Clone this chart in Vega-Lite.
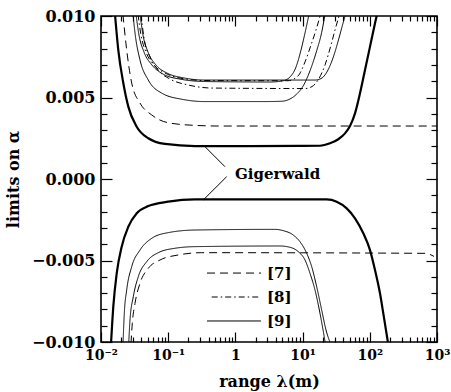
{
  "$schema": "https://vega.github.io/schema/vega-lite/v6.json",
  "width": 336,
  "height": 326,
  "autosize": "none",
  "padding": {"left": 101, "top": 16, "right": 14, "bottom": 50},
  "background": "white",
  "datasets": {
    "curves": [
      {"c": "gu", "src": "Gigerwald", "x": 0.01615, "y": 0.0101},
      {"c": "gu", "src": "Gigerwald", "x": 0.01809, "y": 0.00791},
      {"c": "gu", "src": "Gigerwald", "x": 0.02147, "y": 0.00589},
      {"c": "gu", "src": "Gigerwald", "x": 0.02549, "y": 0.00444},
      {"c": "gu", "src": "Gigerwald", "x": 0.03399, "y": 0.00321},
      {"c": "gu", "src": "Gigerwald", "x": 0.05057, "y": 0.0025},
      {"c": "gu", "src": "Gigerwald", "x": 0.08962, "y": 0.00215},
      {"c": "gu", "src": "Gigerwald", "x": 0.2505, "y": 0.00202},
      {"c": "gu", "src": "Gigerwald", "x": 1.649, "y": 0.00202},
      {"c": "gu", "src": "Gigerwald", "x": 9.148, "y": 0.00203},
      {"c": "gu", "src": "Gigerwald", "x": 18.15, "y": 0.00204},
      {"c": "gu", "src": "Gigerwald", "x": 25.57, "y": 0.00219},
      {"c": "gu", "src": "Gigerwald", "x": 33.98, "y": 0.00244},
      {"c": "gu", "src": "Gigerwald", "x": 42.76, "y": 0.0028},
      {"c": "gu", "src": "Gigerwald", "x": 50.74, "y": 0.00325},
      {"c": "gu", "src": "Gigerwald", "x": 60.22, "y": 0.00403},
      {"c": "gu", "src": "Gigerwald", "x": 71.48, "y": 0.00526},
      {"c": "gu", "src": "Gigerwald", "x": 84.85, "y": 0.00669},
      {"c": "gu", "src": "Gigerwald", "x": 100.7, "y": 0.00812},
      {"c": "gu", "src": "Gigerwald", "x": 119.5, "y": 0.00955},
      {"c": "gu", "src": "Gigerwald", "x": 128, "y": 0.0101},

      {"c": "gl", "src": "Gigerwald", "x": 0.01409, "y": -0.0101},
      {"c": "gl", "src": "Gigerwald", "x": 0.01524, "y": -0.00783},
      {"c": "gl", "src": "Gigerwald", "x": 0.01713, "y": -0.00579},
      {"c": "gl", "src": "Gigerwald", "x": 0.02032, "y": -0.00415},
      {"c": "gl", "src": "Gigerwald", "x": 0.02549, "y": -0.00293},
      {"c": "gl", "src": "Gigerwald", "x": 0.03399, "y": -0.0021},
      {"c": "gl", "src": "Gigerwald", "x": 0.05057, "y": -0.00166},
      {"c": "gl", "src": "Gigerwald", "x": 0.1003, "y": -0.00139},
      {"c": "gl", "src": "Gigerwald", "x": 0.2505, "y": -0.00125},
      {"c": "gl", "src": "Gigerwald", "x": 22.84, "y": -0.00125},
      {"c": "gl", "src": "Gigerwald", "x": 32.17, "y": -0.00139},
      {"c": "gl", "src": "Gigerwald", "x": 45.33, "y": -0.0018},
      {"c": "gl", "src": "Gigerwald", "x": 60.22, "y": -0.00241},
      {"c": "gl", "src": "Gigerwald", "x": 80.05, "y": -0.00333},
      {"c": "gl", "src": "Gigerwald", "x": 100.7, "y": -0.00436},
      {"c": "gl", "src": "Gigerwald", "x": 119.5, "y": -0.00558},
      {"c": "gl", "src": "Gigerwald", "x": 141.8, "y": -0.00701},
      {"c": "gl", "src": "Gigerwald", "x": 158.8, "y": -0.00824},
      {"c": "gl", "src": "Gigerwald", "x": 187.5, "y": -0.0101},

      {"c": "d7u", "src": "[7]", "x": 0.0212, "y": 0.0101},
      {"c": "d7u", "src": "[7]", "x": 0.02412, "y": 0.00791},
      {"c": "d7u", "src": "[7]", "x": 0.02863, "y": 0.00589},
      {"c": "d7u", "src": "[7]", "x": 0.03805, "y": 0.00466},
      {"c": "d7u", "src": "[7]", "x": 0.05681, "y": 0.00393},
      {"c": "d7u", "src": "[7]", "x": 0.1003, "y": 0.00345},
      {"c": "d7u", "src": "[7]", "x": 0.2505, "y": 0.00329},
      {"c": "d7u", "src": "[7]", "x": 0.59, "y": 0.00325},
      {"c": "d7u", "src": "[7]", "x": 1000, "y": 0.00325},

      {"c": "d7l", "src": "[7]", "x": 0.02795, "y": -0.0101},
      {"c": "d7l", "src": "[7]", "x": 0.02923, "y": -0.00885},
      {"c": "d7l", "src": "[7]", "x": 0.03206, "y": -0.00763},
      {"c": "d7l", "src": "[7]", "x": 0.03805, "y": -0.0064},
      {"c": "d7l", "src": "[7]", "x": 0.05057, "y": -0.00548},
      {"c": "d7l", "src": "[7]", "x": 0.07551, "y": -0.00497},
      {"c": "d7l", "src": "[7]", "x": 0.1413, "y": -0.00466},
      {"c": "d7l", "src": "[7]", "x": 0.315, "y": -0.00452},
      {"c": "d7l", "src": "[7]", "x": 662.9, "y": -0.00456},
      {"c": "d7l", "src": "[7]", "x": 786.6, "y": -0.00463},
      {"c": "d7l", "src": "[7]", "x": 902.5, "y": -0.00475},

      {"c": "u1", "src": "[9]", "x": 0.02994, "y": 0.0101},
      {"c": "u1", "src": "[9]", "x": 0.03206, "y": 0.00896},
      {"c": "u1", "src": "[9]", "x": 0.03805, "y": 0.0073},
      {"c": "u1", "src": "[9]", "x": 0.05057, "y": 0.00607},
      {"c": "u1", "src": "[9]", "x": 0.08087, "y": 0.00526},
      {"c": "u1", "src": "[9]", "x": 0.1605, "y": 0.00489},
      {"c": "u1", "src": "[9]", "x": 0.3528, "y": 0.00475},
      {"c": "u1", "src": "[9]", "x": 2.757, "y": 0.00475},
      {"c": "u1", "src": "[9]", "x": 4.887, "y": 0.00477},
      {"c": "u1", "src": "[9]", "x": 6.494, "y": 0.00491},
      {"c": "u1", "src": "[9]", "x": 8.17, "y": 0.00521},
      {"c": "u1", "src": "[9]", "x": 10.24, "y": 0.00572},
      {"c": "u1", "src": "[9]", "x": 12.89, "y": 0.00664},
      {"c": "u1", "src": "[9]", "x": 16.21, "y": 0.00787},
      {"c": "u1", "src": "[9]", "x": 19.24, "y": 0.009},
      {"c": "u1", "src": "[9]", "x": 21.54, "y": 0.0101},

      {"c": "u2", "src": "[9]", "x": 0.03318, "y": 0.0101},
      {"c": "u2", "src": "[9]", "x": 0.03677, "y": 0.00883},
      {"c": "u2", "src": "[9]", "x": 0.04364, "y": 0.00779},
      {"c": "u2", "src": "[9]", "x": 0.0574, "y": 0.00699},
      {"c": "u2", "src": "[9]", "x": 0.08369, "y": 0.00644},
      {"c": "u2", "src": "[9]", "x": 0.1498, "y": 0.00613},
      {"c": "u2", "src": "[9]", "x": 0.3528, "y": 0.00598},
      {"c": "u2", "src": "[9]", "x": 3.273, "y": 0.00595},
      {"c": "u2", "src": "[9]", "x": 4.938, "y": 0.00601},
      {"c": "u2", "src": "[9]", "x": 6.494, "y": 0.00626},
      {"c": "u2", "src": "[9]", "x": 7.977, "y": 0.00687},
      {"c": "u2", "src": "[9]", "x": 9.467, "y": 0.00791},
      {"c": "u2", "src": "[9]", "x": 10.86, "y": 0.00896},
      {"c": "u2", "src": "[9]", "x": 12.45, "y": 0.0101},

      {"c": "u3", "src": "[9]", "x": 0.03805, "y": 0.0101},
      {"c": "u3", "src": "[9]", "x": 0.04217, "y": 0.00883},
      {"c": "u3", "src": "[9]", "x": 0.05005, "y": 0.00779},
      {"c": "u3", "src": "[9]", "x": 0.06585, "y": 0.00699},
      {"c": "u3", "src": "[9]", "x": 0.09596, "y": 0.0065},
      {"c": "u3", "src": "[9]", "x": 0.1718, "y": 0.0062},
      {"c": "u3", "src": "[9]", "x": 0.3528, "y": 0.00607},
      {"c": "u3", "src": "[9]", "x": 15.29, "y": 0.00607},
      {"c": "u3", "src": "[9]", "x": 19.44, "y": 0.0062},
      {"c": "u3", "src": "[9]", "x": 23.88, "y": 0.00669},
      {"c": "u3", "src": "[9]", "x": 29.34, "y": 0.00761},
      {"c": "u3", "src": "[9]", "x": 34.81, "y": 0.00865},
      {"c": "u3", "src": "[9]", "x": 38.58, "y": 0.00933},
      {"c": "u3", "src": "[9]", "x": 43.49, "y": 0.0101},

      {"c": "d8a", "src": "[8]", "x": 0.03553, "y": 0.0101},
      {"c": "d8a", "src": "[8]", "x": 0.03937, "y": 0.00883},
      {"c": "d8a", "src": "[8]", "x": 0.04673, "y": 0.00779},
      {"c": "d8a", "src": "[8]", "x": 0.06146, "y": 0.00699},
      {"c": "d8a", "src": "[8]", "x": 0.08962, "y": 0.0065},
      {"c": "d8a", "src": "[8]", "x": 0.1605, "y": 0.00617},
      {"c": "d8a", "src": "[8]", "x": 0.3528, "y": 0.00604},
      {"c": "d8a", "src": "[8]", "x": 6.063, "y": 0.00603},
      {"c": "d8a", "src": "[8]", "x": 8.541, "y": 0.00632},
      {"c": "d8a", "src": "[8]", "x": 10.86, "y": 0.00718},
      {"c": "d8a", "src": "[8]", "x": 13.34, "y": 0.00822},
      {"c": "d8a", "src": "[8]", "x": 15.83, "y": 0.00914},
      {"c": "d8a", "src": "[8]", "x": 18.47, "y": 0.0101},

      {"c": "d8b", "src": "[8]", "x": 0.03937, "y": 0.0101},
      {"c": "d8b", "src": "[8]", "x": 0.04364, "y": 0.00865},
      {"c": "d8b", "src": "[8]", "x": 0.05359, "y": 0.00748},
      {"c": "d8b", "src": "[8]", "x": 0.07049, "y": 0.00669},
      {"c": "d8b", "src": "[8]", "x": 0.1063, "y": 0.00613},
      {"c": "d8b", "src": "[8]", "x": 0.197, "y": 0.00577},
      {"c": "d8b", "src": "[8]", "x": 0.4485, "y": 0.00558},
      {"c": "d8b", "src": "[8]", "x": 10.86, "y": 0.00555},
      {"c": "d8b", "src": "[8]", "x": 13.8, "y": 0.00567},
      {"c": "d8b", "src": "[8]", "x": 16.95, "y": 0.00607},
      {"c": "d8b", "src": "[8]", "x": 21.54, "y": 0.00699},
      {"c": "d8b", "src": "[8]", "x": 26.46, "y": 0.00822},
      {"c": "d8b", "src": "[8]", "x": 30.36, "y": 0.00914},
      {"c": "d8b", "src": "[8]", "x": 35.41, "y": 0.0101},

      {"c": "l1", "src": "[9]", "x": 0.02126, "y": -0.0101},
      {"c": "l1", "src": "[9]", "x": 0.02222, "y": -0.00824},
      {"c": "l1", "src": "[9]", "x": 0.02412, "y": -0.00681},
      {"c": "l1", "src": "[9]", "x": 0.02863, "y": -0.00538},
      {"c": "l1", "src": "[9]", "x": 0.03805, "y": -0.00436},
      {"c": "l1", "src": "[9]", "x": 0.05681, "y": -0.00364},
      {"c": "l1", "src": "[9]", "x": 0.1003, "y": -0.00329},
      {"c": "l1", "src": "[9]", "x": 0.2505, "y": -0.00313},
      {"c": "l1", "src": "[9]", "x": 3.884, "y": -0.00309},
      {"c": "l1", "src": "[9]", "x": 5.162, "y": -0.00317},
      {"c": "l1", "src": "[9]", "x": 7.27, "y": -0.00344},
      {"c": "l1", "src": "[9]", "x": 9.148, "y": -0.00385},
      {"c": "l1", "src": "[9]", "x": 11.51, "y": -0.00456},
      {"c": "l1", "src": "[9]", "x": 13.66, "y": -0.00538},
      {"c": "l1", "src": "[9]", "x": 16.21, "y": -0.00661},
      {"c": "l1", "src": "[9]", "x": 19.24, "y": -0.00804},
      {"c": "l1", "src": "[9]", "x": 22.29, "y": -0.00926},
      {"c": "l1", "src": "[9]", "x": 26.06, "y": -0.0101},

      {"c": "l2", "src": "[9]", "x": 0.02584, "y": -0.0101},
      {"c": "l2", "src": "[9]", "x": 0.02701, "y": -0.00865},
      {"c": "l2", "src": "[9]", "x": 0.03025, "y": -0.00722},
      {"c": "l2", "src": "[9]", "x": 0.0359, "y": -0.00599},
      {"c": "l2", "src": "[9]", "x": 0.04787, "y": -0.00507},
      {"c": "l2", "src": "[9]", "x": 0.07123, "y": -0.00452},
      {"c": "l2", "src": "[9]", "x": 0.1262, "y": -0.00425},
      {"c": "l2", "src": "[9]", "x": 0.2505, "y": -0.00415},
      {"c": "l2", "src": "[9]", "x": 4.609, "y": -0.00411},
      {"c": "l2", "src": "[9]", "x": 6.494, "y": -0.00419},
      {"c": "l2", "src": "[9]", "x": 8.63, "y": -0.00446},
      {"c": "l2", "src": "[9]", "x": 10.86, "y": -0.00497},
      {"c": "l2", "src": "[9]", "x": 12.89, "y": -0.00579},
      {"c": "l2", "src": "[9]", "x": 15.29, "y": -0.00681},
      {"c": "l2", "src": "[9]", "x": 18.15, "y": -0.00824},
      {"c": "l2", "src": "[9]", "x": 21.84, "y": -0.0101},

      {"c": "lg7", "src": "[7]", "x": 0.378, "y": -0.00577},
      {"c": "lg7", "src": "[7]", "x": 2.4, "y": -0.00577},
      {"c": "lg8", "src": "[8]", "x": 0.444, "y": -0.00724},
      {"c": "lg8", "src": "[8]", "x": 2.19, "y": -0.00724},
      {"c": "lg9", "src": "[9]", "x": 0.378, "y": -0.00871},
      {"c": "lg9", "src": "[9]", "x": 2.4, "y": -0.00871}
    ],
    "pointers": [
      {"x": 0.332, "y": 0.00209, "x2": 0.70, "y2": 0.000755},
      {"x": 0.741, "y": 0.000141, "x2": 0.332, "y2": -0.00129}
    ],
    "labels": [
      {"x": 0.986, "y": 0.00028, "label": "Gigerwald"},
      {"x": 2.95, "y": -0.00577, "label": "[7]"},
      {"x": 2.95, "y": -0.00724, "label": "[8]"},
      {"x": 2.95, "y": -0.00871, "label": "[9]"}
    ]
  },
  "layer": [
    {
      "layer": [
        {
          "data": {"name": "curves"},
          "transform": [{"filter": "datum.src == 'Gigerwald'"}],
          "mark": {"type": "line", "clip": true, "interpolate": "monotone", "strokeWidth": 2.2, "color": "black"},
          "encoding": {
            "x": {"field": "x", "type": "quantitative", "scale": {"type": "log", "domain": [0.01, 1000], "nice": false}, "axis": null},
            "y": {"field": "y", "type": "quantitative", "scale": {"domain": [-0.01, 0.01], "nice": false, "zero": false}, "axis": null},
            "detail": {"field": "c", "type": "nominal"}
          }
        },
        {
          "data": {"name": "curves"},
          "transform": [{"filter": "datum.src != 'Gigerwald'"}],
          "mark": {"type": "line", "clip": true, "interpolate": "monotone", "strokeWidth": 1, "color": "black"},
          "encoding": {
            "x": {"field": "x", "type": "quantitative", "axis": null},
            "y": {"field": "y", "type": "quantitative", "axis": null},
            "detail": {"field": "c", "type": "nominal"},
            "strokeDash": {
              "field": "src", "type": "nominal",
              "scale": {"domain": ["[7]", "[8]", "[9]"], "range": [[8, 5], [6, 3, 1.5, 3], [1, 0]]},
              "legend": null
            }
          }
        },
        {
          "data": {"name": "pointers"},
          "mark": {"type": "rule", "color": "black", "strokeWidth": 1},
          "encoding": {
            "x": {"field": "x", "type": "quantitative", "axis": null},
            "y": {"field": "y", "type": "quantitative", "axis": null},
            "x2": {"field": "x2"},
            "y2": {"field": "y2"}
          }
        },
        {
          "data": {"name": "labels"},
          "mark": {"type": "text", "align": "left", "baseline": "middle", "font": "DejaVu Serif", "fontWeight": "bold", "fontSize": 15, "color": "black"},
          "encoding": {
            "x": {"field": "x", "type": "quantitative", "axis": null},
            "y": {"field": "y", "type": "quantitative", "axis": null},
            "text": {"field": "label", "type": "nominal"}
          }
        }
      ]
    },
    {
      "data": {"values": [{"x": 1, "y": 0}]},
      "mark": {"type": "point", "opacity": 0},
      "encoding": {
        "x": {
          "field": "x", "type": "quantitative",
          "scale": {"type": "log", "domain": [0.01, 1000], "nice": false},
          "axis": {
            "orient": "bottom",
            "values": [0.01,0.02,0.03,0.04,0.05,0.06,0.07,0.08,0.09,0.1,0.2,0.3,0.4,0.5,0.6,0.7,0.8,0.9,1,2,3,4,5,6,7,8,9,10,20,30,40,50,60,70,80,90,100,200,300,400,500,600,700,800,900,1000],
            "labelExpr": "datum.value == 0.01 ? '10⁻²' : datum.value == 0.1 ? '10⁻¹' : datum.value == 1 ? '1' : datum.value == 10 ? '10¹' : datum.value == 100 ? '10²' : datum.value == 1000 ? '10³' : ''",
            "tickSize": {"condition": {"test": "indexof([0.01,0.1,1,10,100,1000], datum.value) >= 0", "value": -10}, "value": -5},
            "labelPadding": 16,
            "labelFontSize": 14,
            "labelFlush": false,
            "labelOverlap": false,
            "labelBound": false,
            "title": "range λ(m)",
            "titleFontSize": 16,
            "titlePadding": 6
          }
        },
        "y": {
          "field": "y", "type": "quantitative",
          "scale": {"domain": [-0.01, 0.01], "nice": false, "zero": false},
          "axis": {
            "orient": "left",
            "values": [-0.01,-0.009,-0.008,-0.007,-0.006,-0.005,-0.004,-0.003,-0.002,-0.001,0,0.001,0.002,0.003,0.004,0.005,0.006,0.007,0.008,0.009,0.01],
            "labelExpr": "indexof([-0.01,-0.005,0,0.005,0.01], datum.value) >= 0 ? format(datum.value, '.3f') : ''",
            "tickSize": {"condition": {"test": "indexof([-0.01,-0.005,0,0.005,0.01], datum.value) >= 0", "value": -11}, "value": -6},
            "labelPadding": 17,
            "labelFontSize": 16,
            "labelOverlap": false,
            "labelBound": false,
            "labelFlush": false,
            "title": "limits on α",
            "titleFontSize": 16,
            "titlePadding": 10
          }
        }
      }
    },
    {
      "data": {"values": [{"x": 1, "y": 0}]},
      "mark": {"type": "point", "opacity": 0},
      "encoding": {
        "x": {
          "field": "x", "type": "quantitative",
          "scale": {"type": "log", "domain": [0.01, 1000], "nice": false},
          "axis": {
            "orient": "top",
            "values": [0.01,0.02,0.03,0.04,0.05,0.06,0.07,0.08,0.09,0.1,0.2,0.3,0.4,0.5,0.6,0.7,0.8,0.9,1,2,3,4,5,6,7,8,9,10,20,30,40,50,60,70,80,90,100,200,300,400,500,600,700,800,900,1000],
            "labels": false,
            "title": null,
            "tickSize": {"condition": {"test": "indexof([0.01,0.1,1,10,100,1000], datum.value) >= 0", "value": -10}, "value": -5}
          }
        },
        "y": {
          "field": "y", "type": "quantitative",
          "scale": {"domain": [-0.01, 0.01], "nice": false, "zero": false},
          "axis": {
            "orient": "right",
            "values": [-0.01,-0.009,-0.008,-0.007,-0.006,-0.005,-0.004,-0.003,-0.002,-0.001,0,0.001,0.002,0.003,0.004,0.005,0.006,0.007,0.008,0.009,0.01],
            "labels": false,
            "title": null,
            "tickSize": {"condition": {"test": "indexof([-0.01,-0.005,0,0.005,0.01], datum.value) >= 0", "value": -11}, "value": -6}
          }
        }
      }
    }
  ],
  "resolve": {"axis": {"x": "independent", "y": "independent"}},
  "config": {
    "view": {"stroke": "black", "strokeWidth": 1.6},
    "axis": {
      "domain": false,
      "grid": false,
      "ticks": true,
      "tickColor": "black",
      "tickWidth": 1.2,
      "labelColor": "black",
      "titleColor": "black",
      "labelFont": "DejaVu Serif",
      "titleFont": "DejaVu Serif",
      "labelFontWeight": "bold",
      "titleFontWeight": "bold"
    }
  }
}
